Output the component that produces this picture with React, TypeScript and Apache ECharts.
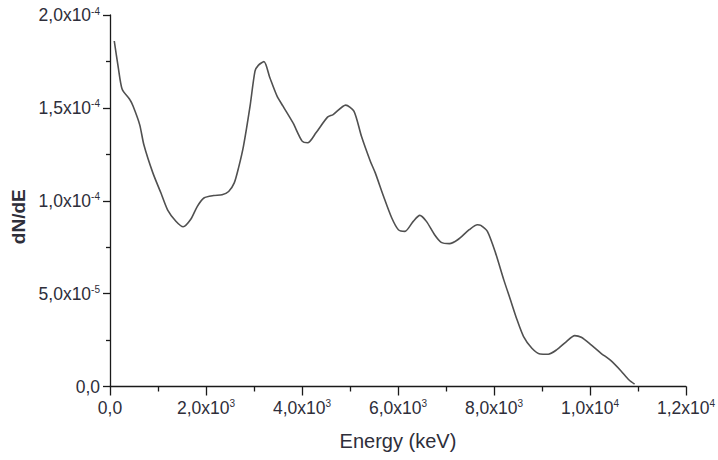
import React, { useEffect, useRef } from "react";
import * as echarts from "echarts";

const energies = [
  89, 171, 254, 412, 480, 618, 707, 893, 1064, 1202, 1373, 1524, 1683, 1820, 1957,
  2163, 2335, 2472, 2589, 2678, 2781, 2918, 3021, 3090, 3207, 3331, 3481, 3605, 3811,
  4003, 4120, 4292, 4532, 4649, 4910, 5082, 5239, 5424, 5527, 5699, 5871, 6009, 6145,
  6318, 6454, 6592, 6763, 6901, 7072, 7244, 7484, 7656, 7725, 7863, 8034, 8205, 8343,
  8481, 8617, 8790, 8961, 9132, 9304, 9510, 9682, 9819, 10025, 10231, 10437, 10643,
  10815, 10930,
];

const dNdE = [
  1.86e-4, 1.72e-4, 1.6e-4, 1.545e-4, 1.51e-4, 1.41e-4, 1.3e-4, 1.15e-4, 1.04e-4, 0.95e-4,
  0.89e-4, 0.86e-4, 0.9e-4, 0.97e-4, 1.015e-4, 1.028e-4, 1.032e-4, 1.05e-4, 1.096e-4,
  1.177e-4, 1.294e-4, 1.509e-4, 1.698e-4, 1.729e-4, 1.749e-4, 1.662e-4, 1.563e-4,
  1.509e-4, 1.42e-4, 1.321e-4, 1.312e-4, 1.366e-4, 1.45e-4, 1.464e-4, 1.515e-4,
  1.482e-4, 1.347e-4, 1.213e-4, 1.15e-4, 1.024e-4, 0.907e-4, 0.844e-4, 0.835e-4,
  0.889e-4, 0.921e-4, 0.889e-4, 0.817e-4, 0.776e-4, 0.769e-4, 0.79e-4, 0.844e-4,
  0.871e-4, 0.867e-4, 0.835e-4, 0.718e-4, 0.574e-4, 0.467e-4, 0.359e-4, 0.269e-4,
  0.206e-4, 0.175e-4, 0.174e-4, 0.197e-4, 0.242e-4, 0.274e-4, 0.265e-4, 0.224e-4,
  0.179e-4, 0.139e-4, 0.085e-4, 0.035e-4, 0.013e-4,
];

const xTicks = [0, 2000, 4000, 6000, 8000, 10000, 12000];
const xTickLabels = [
  "0,0",
  "2,0x10{s|3}",
  "4,0x10{s|3}",
  "6,0x10{s|3}",
  "8,0x10{s|3}",
  "1,0x10{s|4}",
  "1,2x10{s|4}",
];
const yTicks = [0, 5e-5, 1e-4, 1.5e-4, 2e-4];
const yTickLabels = [
  "0,0",
  "5,0x10{s|-5}",
  "1,0x10{s|-4}",
  "1,5x10{s|-4}",
  "2,0x10{s|-4}",
];

const xName = "Energy (keV)";
const yName = "dN/dE";

function pick(ticks: number[], labels: string[], v: number, tol: number) {
  const i = ticks.findIndex((t) => Math.abs(t - v) < tol);
  return i >= 0 ? labels[i] : "";
}

const FONT = "'Liberation Sans', Arial, sans-serif";
const TXT = "#2e2e3a";

export default function App() {
  const ref = useRef<HTMLDivElement>(null);
  useEffect(() => {
    if (!ref.current) return;
    const chart = echarts.init(ref.current, undefined, { renderer: "svg" });
    const rich = {
      s: {
        fontSize: 10,
        fontFamily: FONT,
        color: TXT,
        verticalAlign: "top",
        lineHeight: 10,
      },
    };
    chart.setOption({
      animation: false,
      backgroundColor: "#ffffff",
      grid: { left: 110, right: 25.3, top: 15, bottom: 73.5, containLabel: false },
      xAxis: {
        type: "value",
        min: 0,
        max: 12000,
        interval: 2000,
        name: xName,
        nameLocation: "middle",
        nameGap: 44,
        nameTextStyle: { fontSize: 20, fontFamily: FONT, color: TXT },
        axisLine: { show: true, onZero: false, lineStyle: { color: "#1a1a1a", width: 1.3 } },
        axisTick: { show: true, inside: false, length: 9, lineStyle: { color: "#1a1a1a", width: 1.3 } },
        minorTick: { show: true, splitNumber: 2, length: 5, lineStyle: { color: "#1a1a1a", width: 1.3 } },
        splitLine: { show: false },
        axisLabel: {
          margin: 12,
          fontSize: 17.5,
          fontFamily: FONT,
          color: TXT,
          lineHeight: 18,
          formatter: (v: number) => pick(xTicks, xTickLabels, v, 1e-3),
          rich,
        },
      },
      yAxis: {
        type: "value",
        min: 0,
        max: 2e-4,
        interval: 5e-5,
        name: yName,
        nameLocation: "middle",
        nameGap: 80,
        nameRotate: 90,
        nameTextStyle: {
          fontSize: 19,
          fontWeight: "bold",
          fontFamily: FONT,
          color: TXT,
          padding: [0, 32, 0, 0],
        },
        axisLine: { show: true, onZero: false, lineStyle: { color: "#1a1a1a", width: 1.3 } },
        axisTick: { show: true, inside: false, length: 7, lineStyle: { color: "#1a1a1a", width: 1.3 } },
        minorTick: { show: true, splitNumber: 2, length: 4, lineStyle: { color: "#1a1a1a", width: 1.3 } },
        splitLine: { show: false },
        axisLabel: {
          margin: 10,
          fontSize: 17.5,
          fontFamily: FONT,
          color: TXT,
          lineHeight: 18,
          formatter: (v: number) => pick(yTicks, yTickLabels, v, 1e-9),
          rich,
        },
      },
      series: [
        {
          type: "line",
          data: energies.map((e, i) => [e, dNdE[i]]),
          showSymbol: false,
          symbol: "none",
          smooth: 0.25,
          lineStyle: { color: "#505050", width: 1.6 },
        },
      ],
    });
    return () => chart.dispose();
  }, []);
  return (
    <div
      ref={ref}
      style={{ position: "fixed", left: 0, top: 0, width: 718, height: 460, background: "#fff" }}
    />
  );
}
